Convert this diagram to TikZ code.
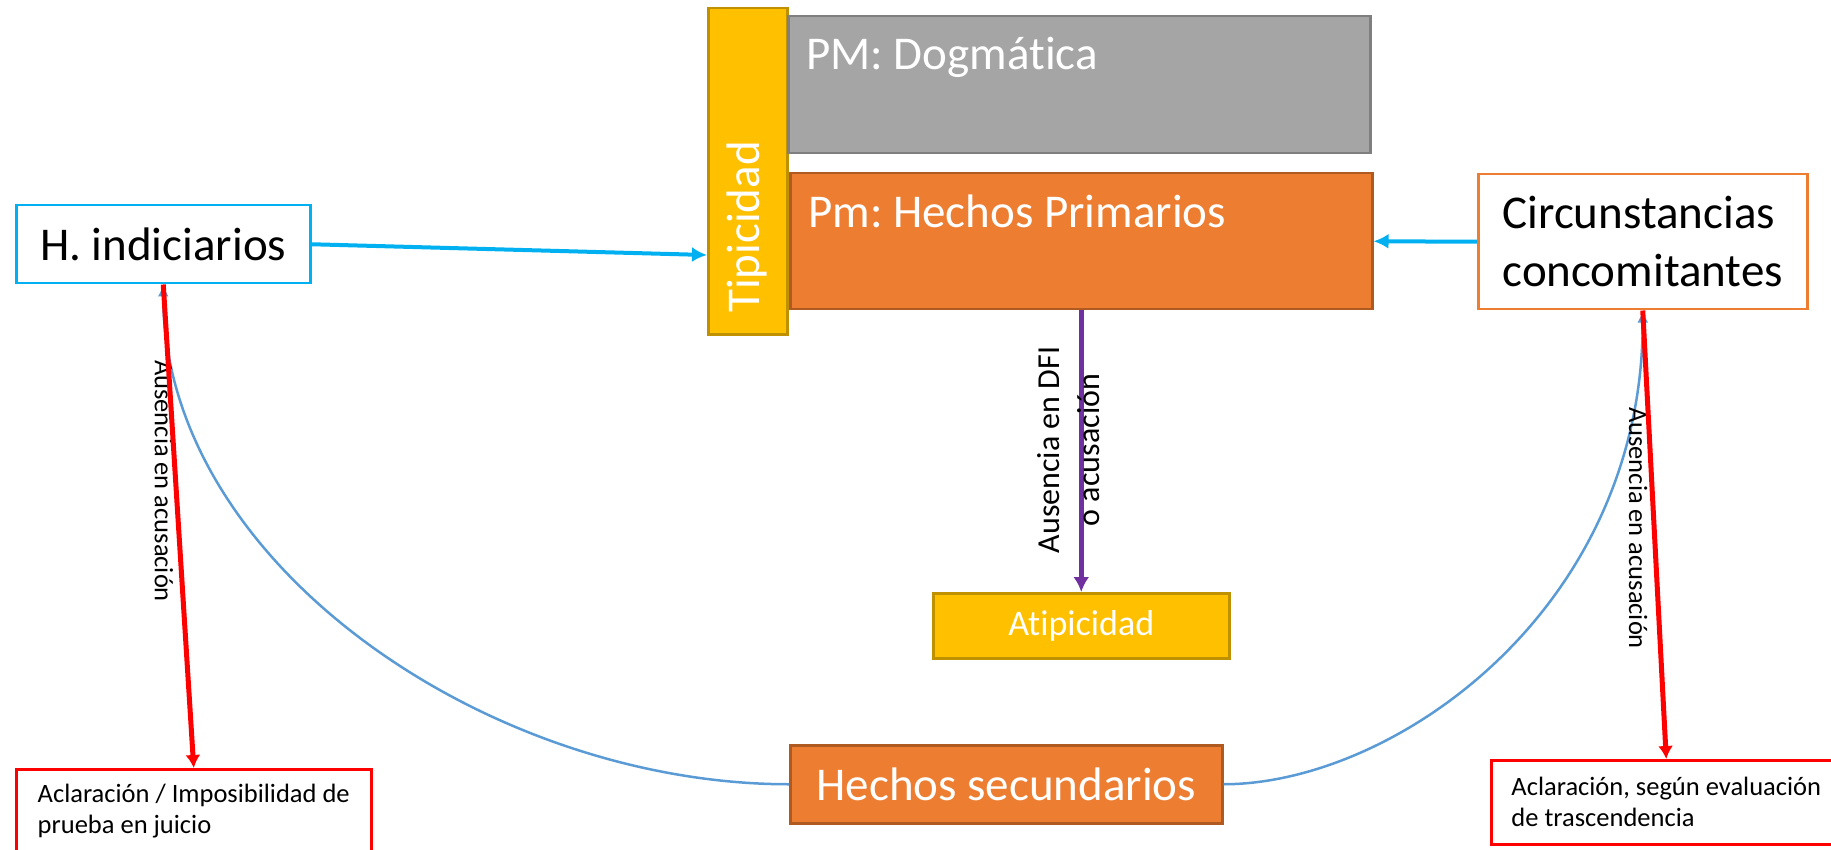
\documentclass[tikz,border=0pt]{standalone}
\usepackage{fontspec}
\setmainfont{Carlito}[Ligatures=NoCommon]
\usetikzlibrary{arrows.meta}
\usetikzlibrary{calc}
\usetikzlibrary{positioning}

\definecolor{cyanline}{HTML}{00B0F0}
\definecolor{orangefill}{HTML}{ED7D31}
\definecolor{orangeline}{HTML}{AE5A21}
\definecolor{grayfill}{HTML}{A5A5A5}
\definecolor{grayline}{HTML}{7F7F7F}
\definecolor{goldfill}{HTML}{FFC000}
\definecolor{goldline}{HTML}{BF9000}
\definecolor{purpleline}{HTML}{7030A0}
\definecolor{curveline}{HTML}{5B9BD5}

\begin{document}
\frenchspacing
\begin{tikzpicture}[
	x=1pt, y=-1pt,
  box/.style = {anchor=north west,inner sep=0pt,line width=2.5pt},
  bigtext/.style = {font=\fontsize{47}{58}\selectfont},
  smalltext/.style = {font=\fontsize{26.5}{31}\selectfont},
  bluearrow/.style = {cyanline,line width=4pt,-{Latex[length=15pt,width=15pt]}},
  purplearrow/.style = {purpleline,line width=4.5pt,-{Latex[length=15pt,width=16pt]}},
  redarrow/.style = {red,line width=5pt,-{Latex[length=13pt,width=15pt]}},
  curvearrow/.style = {curveline,line width=2.5pt,-{Latex[length=12pt,width=11pt]}}
  ]
	\useasboundingbox (0,0) rectangle (1831,850);
	\clip (0,0) rectangle (1831,850);

	% cajas
	\node[box,draw=goldline,fill=goldfill,minimum width=79,minimum height=326] (tip) at (707,7) {};
	\node[box,draw=grayline,fill=grayfill,minimum width=582,minimum height=137] (pmd) at (787,15) {};
	\node[box,draw=orangeline,fill=orangefill,minimum width=582,minimum height=136] (pmh) at (789,172) {};
	\node[box,draw=cyanline,fill=white,bigtext,minimum width=294,minimum height=78] (hind) at (15,204) {H. indiciarios};
	\node[box,draw=orangefill,bigtext,align=left,minimum width=329,minimum height=135] (circ) at (1477,173) {Circunstancias\\concomitantes};
	\node[box,draw=goldline,fill=goldfill,text=white,font=\fontsize{36}{43}\selectfont,minimum width=296,minimum height=65] (atip) at (932,592) {Atipicidad};
	\node[box,draw=orangeline,fill=orangefill,text=white,bigtext,minimum width=432,minimum height=78] (hsec) at (789,744) {Hechos secundarios};
	\node[box,draw=red,smalltext,align=left,minimum width=355,minimum height=84] (acl1) at (15,768) {Aclaración / Imposibilidad de\\prueba en juicio};
	\node[box,draw=red,smalltext,align=left,minimum width=350,minimum height=84] (acl2) at (1490,759) {Aclaración, según evaluación\\de trascendencia};

	\node[anchor=base west,inner sep=0pt,text=white,bigtext] (pmdtext) at (806,70) {PM: Dogmática};
	\node[anchor=base west,inner sep=0pt,text=white,bigtext] (pmhtext) at (808,228) {Pm: Hechos Primarios};
	\node[rotate=90,text=white,bigtext] (tiptext) at (747,227) {Tipicidad};

	% flechas
	\draw[bluearrow] (hind.east) -- ($(tip.north west)!0.755!(tip.south west)$);
	\draw[bluearrow] (circ.west) -- (pmh.east);
	\draw[purplearrow] (pmh.south) -- (atip.north);
	\node[rotate=90,align=center,font=\fontsize{32}{40}\selectfont] (dfi) at (1069,450) {Ausencia en DFI\\o acusación};

	\draw[curvearrow] (hsec.west) .. controls +(-300,0) and +(0,280) .. (hind.south);
	\draw[curvearrow] (hsec.east) .. controls +(170,0) and +(0,300) .. (circ.south);

	\node[rotate=-90,smalltext] (aus1) at (164,481) {Ausencia en acusación};
	\node[rotate=-90,smalltext] (aus2) at (1638,528) {Ausencia en acusación};

	\draw[redarrow] (hind.south) -- (acl1.north);
	\draw[redarrow] (circ.south) -- (acl2.north);
\end{tikzpicture}
\end{document}
